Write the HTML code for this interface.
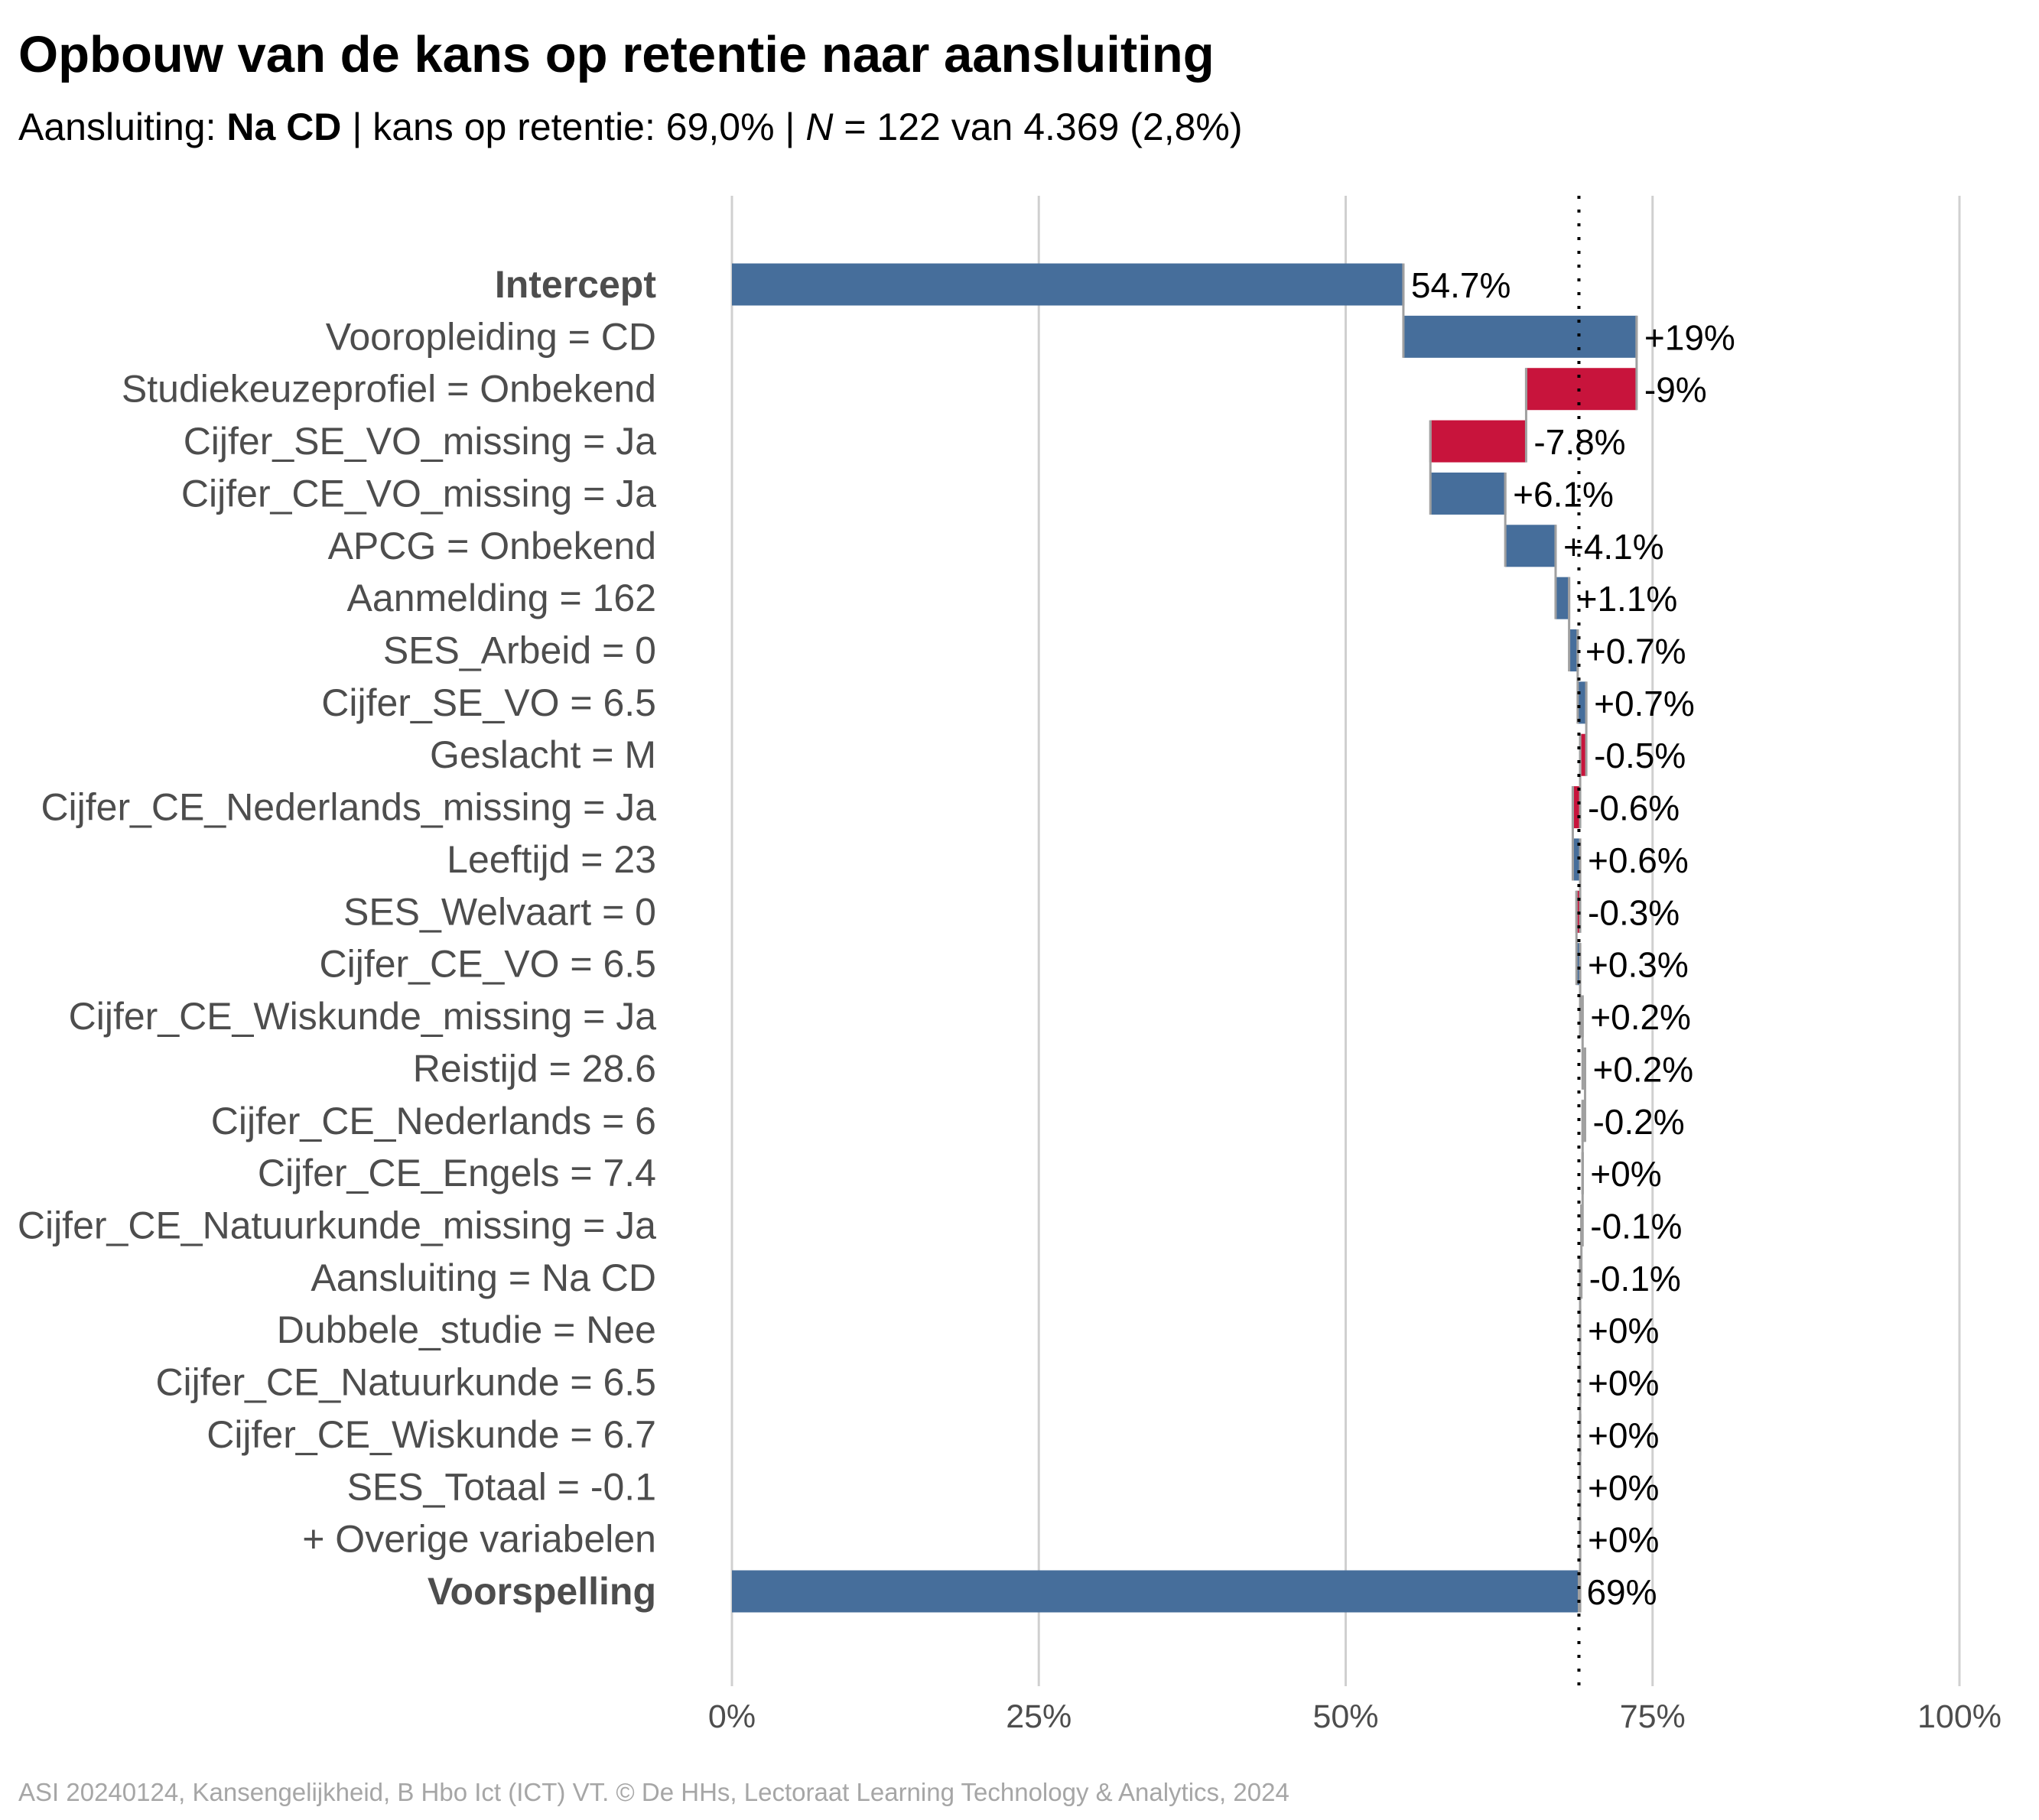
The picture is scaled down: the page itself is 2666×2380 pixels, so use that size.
<!DOCTYPE html>
<html><head><meta charset="utf-8"><style>
body{margin:0;background:#fff;}
svg text{font-family:"Liberation Sans",Arial,sans-serif;}
</style></head><body>
<svg id="chart" width="2666" height="2375" viewBox="0 0 2666 2375" xmlns="http://www.w3.org/2000/svg">
<rect width="2666" height="2375" fill="#fff"/>
<text x="24" y="94" font-size="67" font-weight="bold" fill="#000">Opbouw van de kans op retentie naar aansluiting</text>
<text x="24" y="183" font-size="50" fill="#000">Aansluiting: <tspan font-weight="bold">Na CD</tspan> | kans op retentie: 69,0% | <tspan font-style="italic">N</tspan> = 122 van 4.369 (2,8%)</text>
<g id="grid"></g><g id="bars"></g><g id="labels"></g>
<text x="24" y="2355" font-size="33" fill="#a6a6a6">ASI 20240124, Kansengelijkheid, B Hbo Ict (ICT) VT. © De HHs, Lectoraat Learning Technology &amp; Analytics, 2024</text>
</svg>
<script>
const categories=["Intercept","Vooropleiding = CD","Studiekeuzeprofiel = Onbekend","Cijfer_SE_VO_missing = Ja","Cijfer_CE_VO_missing = Ja","APCG = Onbekend","Aanmelding = 162","SES_Arbeid = 0","Cijfer_SE_VO = 6.5","Geslacht = M","Cijfer_CE_Nederlands_missing = Ja","Leeftijd = 23","SES_Welvaart = 0","Cijfer_CE_VO = 6.5","Cijfer_CE_Wiskunde_missing = Ja","Reistijd = 28.6","Cijfer_CE_Nederlands = 6","Cijfer_CE_Engels = 7.4","Cijfer_CE_Natuurkunde_missing = Ja","Aansluiting = Na CD","Dubbele_studie = Nee","Cijfer_CE_Natuurkunde = 6.5","Cijfer_CE_Wiskunde = 6.7","SES_Totaal = -0.1","+ Overige variabelen","Voorspelling"];
const values=[54.7,19,-9,-7.8,6.1,4.1,1.1,0.7,0.7,-0.5,-0.6,0.6,-0.3,0.3,0.2,0.2,-0.2,0,-0.1,-0.1,0,0,0,0,0,69];
const valueLabels=["54.7%","+19%","-9%","-7.8%","+6.1%","+4.1%","+1.1%","+0.7%","+0.7%","-0.5%","-0.6%","+0.6%","-0.3%","+0.3%","+0.2%","+0.2%","-0.2%","+0%","-0.1%","-0.1%","+0%","+0%","+0%","+0%","+0%","69%"];
const ticks=[0,25,50,75,100];
const prediction=69;
const NS="http://www.w3.org/2000/svg";
const X=v=>957+v*16.05;
const Y=i=>372+i*68.36;
const BH=55;
function mk(tag,attrs,parent){const e=document.createElementNS(NS,tag);for(const k in attrs)e.setAttribute(k,attrs[k]);document.getElementById(parent).appendChild(e);return e;}
ticks.forEach(t=>{
 const l=mk('line',{x1:X(t),x2:X(t),y1:256,y2:2205,stroke:'#d0d0d0','stroke-width':3},'grid');
 
 
 const tx=mk('text',{x:X(t),y:2259,'font-size':43,fill:'#4d4d4d','text-anchor':'middle'},'grid');
 tx.textContent=t+'%';
 
 
});
let cum=0;const n=categories.length;
categories.forEach((c,i)=>{
 let s,e;
 if(i===0||i===n-1){s=0;e=values[i];}else{s=cum;e=cum+values[i];}
 const prev=cum; cum=(i===n-1)?values[i]:e;
 const v=values[i];
 let col='#466e9b';
 if(i>0&&i<n-1){ if(Math.abs(v)<0.3) col='#aaaaaa'; else if(v<0) col='#c8143c'; }
 const x0=Math.min(X(s),X(e)),w=Math.max(Math.abs(X(e)-X(s)),1.5);
 const r=mk('rect',{x:x0,y:Y(i)-BH/2,width:w,height:BH,fill:col},'bars');
 
 
 mk('line',{x1:X(e),x2:X(e),y1:Y(i)-BH/2,y2:Y(i)+BH/2,stroke:'#a0a0a0','stroke-width':3},'bars');
 if(i>0) mk('line',{x1:X(prev),x2:X(prev),y1:Y(i-1)-BH/2,y2:Y(i)+BH/2,stroke:'#a0a0a0','stroke-width':3},'bars');
 const lab=mk('text',{x:858,y:Y(i)+17,'font-size':50,fill:'#4d4d4d','text-anchor':'end','font-weight':(i===0||i===n-1)?'bold':'normal'},'labels');
 lab.textContent=c;
 
 
 const vl=mk('text',{x:Math.max(X(s),X(e))+10,y:Y(i)+17,'font-size':46,fill:'#000'},'labels');
 vl.textContent=valueLabels[i];
 
 
});
const d=mk('line',{x1:X(prediction),x2:X(prediction),y1:256,y2:2205,stroke:'#000','stroke-width':4,'stroke-dasharray':'4 14'},'labels');


</script>
</body></html>
